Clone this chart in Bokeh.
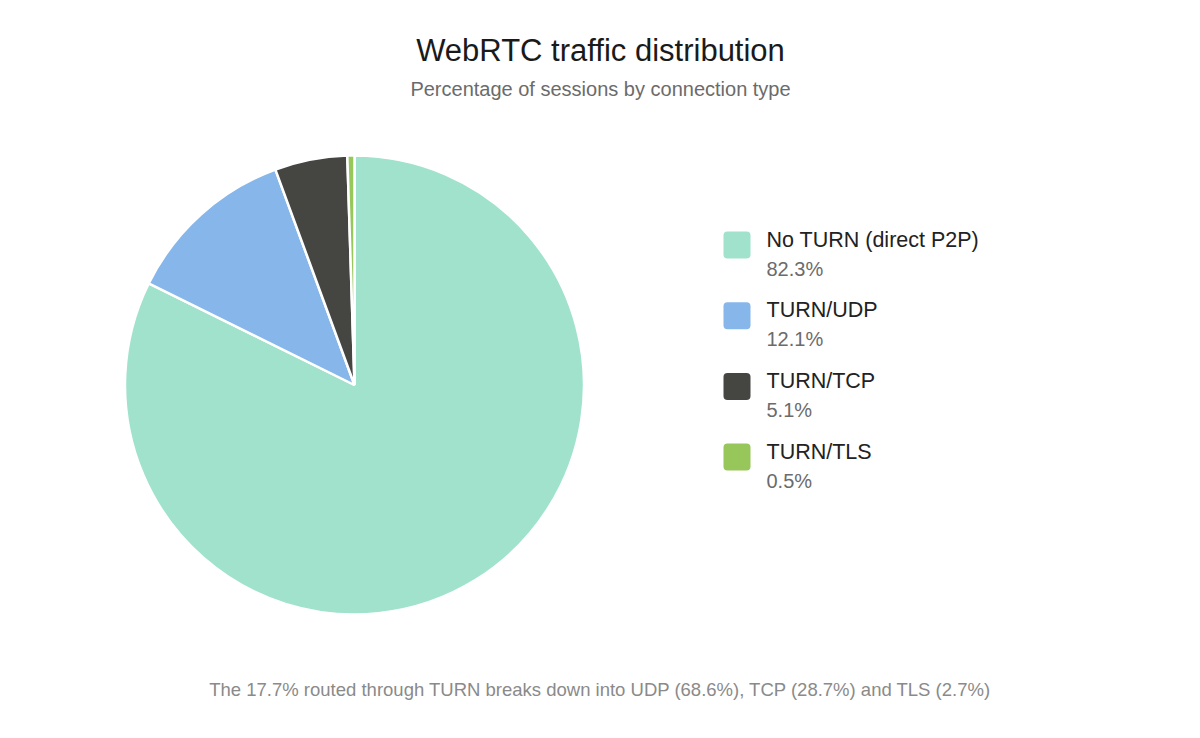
import math
from bokeh.plotting import figure
from bokeh.models import ColumnDataSource, Range1d
from bokeh.core.properties import value
from bokeh.embed import file_html
from bokeh.resources import INLINE

# ---- data ----
categories = ["No TURN (direct P2P)", "TURN/UDP", "TURN/TCP", "TURN/TLS"]
shares = [82.3, 12.1, 5.1, 0.5]
colors = ["#a0e2cb", "#86b6ea", "#454542", "#97c65a"]
title = "WebRTC traffic distribution"
subtitle = "Percentage of sessions by connection type"
footer = "The 17.7% routed through TURN breaks down into UDP (68.6%), TCP (28.7%) and TLS (2.7%)"

W, H = 1184, 722
FONT = "Liberation Sans"

p = figure(width=W, height=H, output_backend="svg", toolbar_location=None,
           x_range=Range1d(0, W), y_range=Range1d(0, H), min_border=0)
p.axis.visible = False
p.grid.visible = False
p.outline_line_color = None
p.background_fill_color = "white"
p.border_fill_color = "white"

def Y(py):
    return H - py

# ---- pie ----
total = sum(shares)
starts, ends = [], []
acc = 0.0
for s in shares:
    starts.append(math.pi / 2 - 2 * math.pi * acc / total)
    acc += s
    ends.append(math.pi / 2 - 2 * math.pi * acc / total)
pie = ColumnDataSource(dict(cat=categories, share=shares, color=colors,
                            start=starts, end=ends))
cx, cy, r = 354, Y(384.5), 229.5
p.wedge(x=cx, y=cy, radius=r, start_angle="start", end_angle="end",
        direction="clock", fill_color="color", line_color="white",
        line_width=2.5, source=pie)

# ---- legend ----
pitch = 70.7
top0 = 231
leg = ColumnDataSource(dict(
    cat=categories,
    pct=[f"{s:.1f}%" for s in shares],
    color=colors,
    sq_top=[Y(top0 + i * pitch) for i in range(len(categories))],
    sq_bot=[Y(top0 + i * pitch + 27) for i in range(len(categories))],
    name_y=[Y(top0 + 8 + i * pitch) for i in range(len(categories))],
    pct_y=[Y(top0 + 37 + i * pitch) for i in range(len(categories))],
))
p.quad(left=723, right=750, top="sq_top", bottom="sq_bot", fill_color="color",
       line_color=None, border_radius=4, source=leg)
p.text(x=766, y="name_y", text="cat", text_font=value(FONT), text_font_size="21.5px",
       text_color="#222222", text_baseline="middle", source=leg)
p.text(x=766, y="pct_y", text="pct", text_font=value(FONT), text_font_size="20px",
       text_color="#6b6b6b", text_baseline="middle", source=leg)

# ---- titles ----
p.text(x=[600], y=[Y(50)], text=[title], text_font=value(FONT),
       text_font_size="31px", text_color="#1a1a1a", text_align="center",
       text_baseline="middle")
p.text(x=[600], y=[Y(88)], text=[subtitle], text_font=value(FONT),
       text_font_size="20px", text_color="#6b6b6b", text_align="center",
       text_baseline="middle")
p.text(x=[600], y=[Y(689)], text=[footer], text_font=value(FONT),
       text_font_size="18.5px", text_color="#8a8a8a", text_align="center",
       text_baseline="middle")

open("out.html", "w").write(file_html(p, INLINE))
